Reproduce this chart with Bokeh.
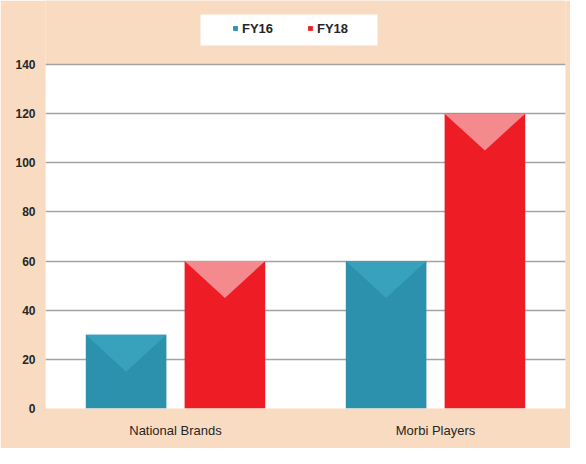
from bokeh.plotting import figure
from bokeh.models import (Range1d, FixedTicker, BoxAnnotation, Legend, LegendItem)
from bokeh.embed import file_html
from bokeh.resources import INLINE

# ---- data ----
categories = ["National Brands", "Morbi Players"]
fy16 = [30, 60]
fy18 = [60, 120]
series_names = ["FY16", "FY18"]
y_ticks = [0, 20, 40, 60, 80, 100, 120, 140]

# ---- style ----
PEACH = "#f8dbc1"
TEAL = "#2b91ad"
TEAL_LIGHT = "#38a1bc"
RED = "#ee1d25"
RED_LIGHT = "#f48a8e"
TEXT = "#262626"
FONT = "Liberation Sans"

W, H = 570, 448
BL, BR, BT, BB = 45, 5, 0, 40
frame_h = H - BT - BB
top_px = 64  # pixel offset of the 140 line from canvas top
y_max = max(y_ticks)
y_end = y_max * frame_h / (frame_h - (top_px - BT))

n = len(categories)
p = figure(width=W, height=H, output_backend="svg", toolbar_location=None,
           x_range=Range1d(0, n), y_range=Range1d(0, y_end),
           min_border_left=BL, min_border_right=BR, min_border_top=BT,
           min_border_bottom=BB)
p.background_fill_color = PEACH
p.border_fill_color = PEACH
p.outline_line_color = None

# white plot area
p.add_layout(BoxAnnotation(bottom=0, top=y_max, fill_color="white", fill_alpha=1,
                           line_alpha=0, level="image"))

# grid
p.xgrid.visible = False
p.ygrid.ticker = FixedTicker(ticks=[t for t in y_ticks if t > 0])
p.ygrid.grid_line_color = "#a3a3a3"
p.ygrid.grid_line_width = 1.5

# axes
p.yaxis.ticker = FixedTicker(ticks=y_ticks)
p.xaxis.ticker = FixedTicker(ticks=[i + 0.5 for i in range(n)])
p.xaxis.major_label_overrides = {i + 0.5: c for i, c in enumerate(categories)}
for ax in (p.xaxis, p.yaxis):
    ax.axis_line_color = None
    ax.major_tick_line_color = None
    ax.minor_tick_line_color = None
    ax.major_tick_out = 0
    ax.major_tick_in = 0
    ax.major_label_text_font = FONT
    ax.major_label_text_color = TEXT
p.yaxis.major_label_text_font_size = "12px"
p.yaxis.major_label_text_font_style = "bold"
p.yaxis.major_label_standoff = 10
p.xaxis.major_label_text_font_size = "13px"
p.xaxis.major_label_standoff = 14

# bars
bar_w = 0.31
off = 0.19
notch = 15
renderers = []
for vals, dx, col, light in ((fy16, -off, TEAL, TEAL_LIGHT), (fy18, off, RED, RED_LIGHT)):
    xs = [i + 0.5 + dx for i in range(n)]
    r = p.vbar(x=xs, top=vals, width=bar_w, bottom=0, fill_color=col, line_color=None)
    renderers.append(r)
    px = [[x - bar_w / 2, x + bar_w / 2, x] for x in xs]
    py = [[v, v, v - notch] for v in vals]
    p.patches(px, py, fill_color=light, line_color=None)

# legend box (white)
p.add_layout(BoxAnnotation(left=155, right=332, top=frame_h - 14, bottom=frame_h - 45,
                           left_units="screen", right_units="screen",
                           top_units="screen", bottom_units="screen",
                           fill_color="white", fill_alpha=1, line_alpha=0, level="guide"))

legend = Legend(items=[LegendItem(label=s, renderers=[r]) for s, r in zip(series_names, renderers)],
                location=(187, frame_h - 36),
                orientation="horizontal", padding=0, margin=0, spacing=29,
                glyph_width=6, glyph_height=6, label_standoff=4, label_width=36,
                label_height=16, label_text_font=FONT, label_text_font_size="13px",
                label_text_font_style="bold", label_text_color=TEXT,
                background_fill_alpha=0, border_line_color=None)
p.add_layout(legend)

open("out.html", "w").write(file_html(p, INLINE))
